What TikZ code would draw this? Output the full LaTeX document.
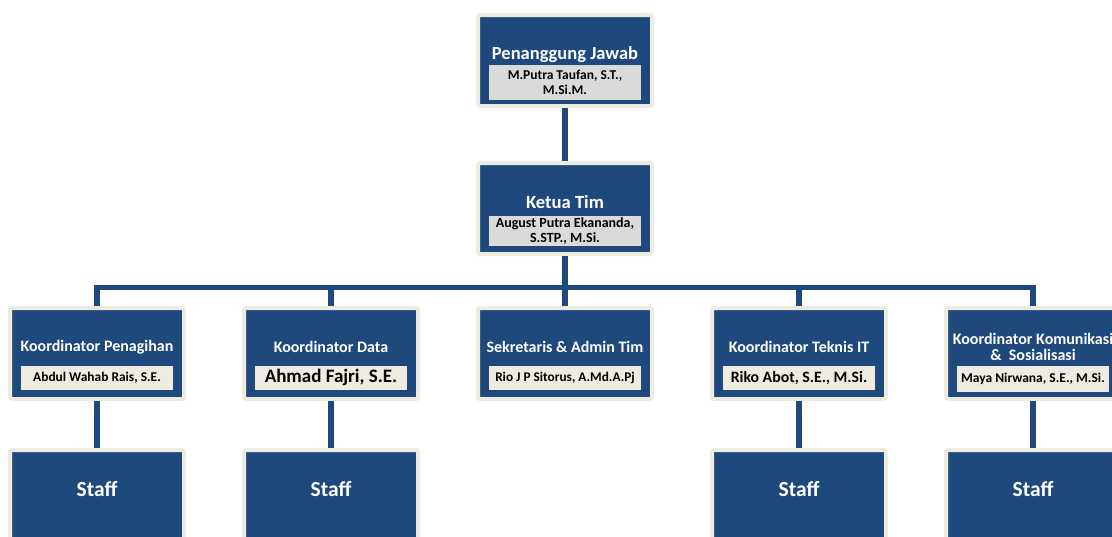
\documentclass[tikz,border=0pt]{standalone}
\usepackage{fontspec}
\setmainfont{Carlito}
\usetikzlibrary{positioning}

\definecolor{navy}{HTML}{1F497D}
\definecolor{cream}{HTML}{EEECE1}
\definecolor{namegray}{HTML}{DADAD8}

\begin{document}
\begin{tikzpicture}[
  x=1pt, y=1pt,
    node distance=56pt,
    every node/.style={font=\bfseries},
    unitbox/.style={rectangle, rounded corners=2pt, minimum width=174pt, minimum height=91pt, draw=cream, line width=4pt, fill=navy},
    heading/.style={text=white, align=center, inner sep=0pt, font=\bfseries\fontsize{16}{17}\selectfont},
    namebox/.style={rectangle, fill=cream, text=black, minimum width=152pt, minimum height=24pt, inner sep=0pt, align=center, font=\bfseries\fontsize{13.4}{15}\selectfont},
    link/.style={draw=navy, line width=5.5pt}
]
\useasboundingbox (0,0) rectangle (1112,-536);

% Pimpinan
\node (pj) [unitbox] at (565,-60.5) {};
\node (pj_nama) [namebox, fill=namegray, minimum height=35pt, above=8pt of pj.south, font=\bfseries\fontsize{13.5}{15.5}\selectfont] {M.Putra Taufan, S.T.,\\M.Si.M.};
\node (pj_judul) [heading, font=\bfseries\fontsize{18.5}{20}\selectfont] at ([yshift=5.5pt]pj.center) {Penanggung Jawab};

\node (ketua) [unitbox, below=53pt of pj] {};
\node (ketua_nama) [namebox, fill=namegray, minimum height=30pt, above=10pt of ketua.south, font=\bfseries\fontsize{14}{14.5}\selectfont] {August Putra Ekananda,\\S.STP., M.Si.};
\node (ketua_judul) [heading, font=\bfseries\fontsize{18.6}{20}\selectfont] at ([yshift=6.5pt]ketua.center) {Ketua Tim};

% Koordinator
\node (sekre) [unitbox, below=50pt of ketua] {};
\node (data) [unitbox, left=of sekre] {};
\node (tagih) [unitbox, left=of data] {};
\node (teknis) [unitbox, right=of sekre] {};
\node (komun) [unitbox, right=of teknis] {};

\node (tagih_judul) [heading] at ([yshift=6.5pt]tagih.center) {Koordinator Penagihan};
\node (data_judul) [heading] at ([yshift=6.5pt]data.center) {Koordinator Data};
\node (sekre_judul) [heading] at ([yshift=6.5pt]sekre.center) {Sekretaris \& Admin Tim};
\node (teknis_judul) [heading] at ([yshift=6.5pt]teknis.center) {Koordinator Teknis IT};
\node (komun_judul) [heading, font=\bfseries\fontsize{16}{16}\selectfont] at ([yshift=6.5pt]komun.center) {Koordinator Komunikasi\\\&\ \ Sosialisasi};

\node (tagih_nama) [namebox, above=11pt of tagih.south] {Abdul Wahab Rais, S.E.};
\node (data_nama) [namebox, above=11pt of data.south, font=\bfseries\fontsize{19}{21}\selectfont] {Ahmad Fajri, S.E.};
\node (sekre_nama) [namebox, above=11pt of sekre.south, font=\bfseries\fontsize{13.3}{15}\selectfont] {Rio J P Sitorus, A.Md.A.Pj};
\node (teknis_nama) [namebox, above=11pt of teknis.south, font=\bfseries\fontsize{15.8}{18}\selectfont] {Riko Abot, S.E., M.Si.};
\node (komun_nama) [namebox, minimum height=26pt, above=9pt of komun.south, font=\bfseries\fontsize{13.5}{15}\selectfont] {Maya Nirwana, S.E., M.Si.};

% Staff
\foreach \k in {tagih, data, teknis, komun} {
  \node (staff_\k) [unitbox, below=47pt of \k] {};
  \node (staff_\k_judul) [heading, font=\bfseries\fontsize{21.5}{24}\selectfont] at ([yshift=6.5pt]staff_\k.center) {Staff};
}

% Garis
\draw [link] (pj) -- (ketua);
\foreach \k in {tagih, data, sekre, teknis, komun}
  \draw [link] (ketua.south) -- ++(0,-31.5) -| (\k.north);
\foreach \k in {tagih, data, teknis, komun}
  \draw [link] (\k) -- (staff_\k);

\end{tikzpicture}
\end{document}
